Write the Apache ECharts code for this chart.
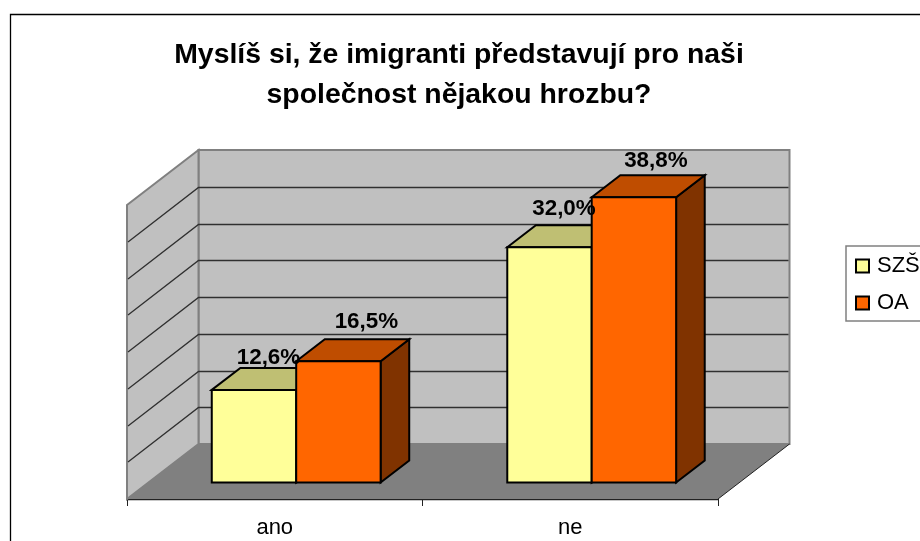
<!DOCTYPE html>
<html>
<head>
<meta charset="utf-8">
<style>html,body{margin:0;padding:0;background:#fff;overflow:hidden}#c{width:920px;height:541px}</style>
<script src="https://cdn.jsdelivr.net/npm/echarts@6/dist/echarts.min.js"></script>
</head>
<body>
<div id="c"></div>
<script>
const titleText = 'Myslíš si, že imigranti představují pro naši\nspolečnost nějakou hrozbu?';
const categories = ['ano', 'ne'];
const seriesNames = ['SZŠ', 'OA'];
const valuesSZS = [12.6, 32.0];
const valuesOA = [16.5, 38.8];
const valueTicks = [0, 5, 10, 15, 20, 25, 30, 35, 40];

const FONT = '"Liberation Sans", Arial, sans-serif';
const DEPTH_X = 71.5, DEPTH_Y = 55;       // wall depth projection
const BAR_NEAR = 0.30, BAR_FAR = 0.70;    // bars' slab within the floor depth
const GAP = 1.5;                          // gap width in bar widths
// label nudges relative to the top of the bar [dx, dy], by series then category
const labelNudge = [[[14.5, -32.5], [14.5, -38]], [[28, -39], [22, -36.5]]];

function poly(points, fill, stroke, lineWidth, z2) {
  return {type: 'polygon', z2: z2 || 0, shape: {points},
    style: {fill: fill, stroke: stroke || 'none', lineWidth: lineWidth || 0, lineJoin: 'miter'}};
}

function renderWalls(params, api) {
  const cs = params.coordSys;
  const v = api.value(1);
  const y = Math.round(api.coord([0, v])[1]);
  const xL = cs.x, xR = cs.x + cs.width;
  const kids = [];
  const yTop = Math.round(api.coord([0, valueTicks[valueTicks.length - 1]])[1]);
  const y0 = Math.round(api.coord([0, 0])[1]);
  if (v === 0) {
    const gray = '#808080';
    kids.push(poly([[xL + DEPTH_X, yTop - DEPTH_Y], [xR + DEPTH_X, yTop - DEPTH_Y], [xR + DEPTH_X, y0 - DEPTH_Y], [xL + DEPTH_X, y0 - DEPTH_Y]], '#C0C0C0', gray, 2, 1));
    kids.push(poly([[xL, yTop], [xL + DEPTH_X, yTop - DEPTH_Y], [xL + DEPTH_X, y0 - DEPTH_Y], [xL, y0]], '#C0C0C0', gray, 2, 1));
    kids.push(poly([[xL, y0], [xR, y0], [xR + DEPTH_X, y0 - DEPTH_Y], [xL + DEPTH_X, y0 - DEPTH_Y]], gray, 'none', 0, 3));
    kids.push({type: 'line', z2: 4, shape: {x1: xR, y1: y0, x2: xR + DEPTH_X, y2: y0 - DEPTH_Y}, style: {stroke: '#222', lineWidth: 1}});
  } else if (v < valueTicks[valueTicks.length - 1]) {
    kids.push({type: 'polyline', z2: 2, shape: {points: [[xL + 1, y], [xL + DEPTH_X, y - DEPTH_Y + 0.5], [xR + DEPTH_X - 1, y - DEPTH_Y + 0.5]]},
      style: {fill: 'none', stroke: '#303030', lineWidth: 1.3}});
  }
  return {type: 'group', children: kids};
}

function barRenderer(seriesIdx, front, top, side) {
  return function (params, api) {
    const cat = api.value(0), val = api.value(1);
    const band = api.size([1, 0])[0];
    const w = band / (seriesNames.length + GAP);
    const base = api.coord([cat, 0]);
    const head = api.coord([cat, val]);
    const x0 = base[0] + (seriesIdx - 1) * w + BAR_NEAR * DEPTH_X;
    const x1 = x0 + w;
    const yB = base[1] - BAR_NEAR * DEPTH_Y;
    const yT = head[1] - BAR_NEAR * DEPTH_Y;
    const dx = (BAR_FAR - BAR_NEAR) * DEPTH_X, dy = (BAR_FAR - BAR_NEAR) * DEPTH_Y;
    const k = '#000', lw = 2;
    const n = labelNudge[seriesIdx][cat];
    return {type: 'group', children: [
      poly([[x1, yB], [x1 + dx, yB - dy], [x1 + dx, yT - dy], [x1, yT]], side, k, lw, 5),
      poly([[x0, yT], [x0 + dx, yT - dy], [x1 + dx, yT - dy], [x1, yT]], top, k, lw, 5),
      poly([[x0, yB], [x1, yB], [x1, yT], [x0, yT]], front, k, lw, 6),
      {type: 'text', z2: 50, silent: true,
        x: (x0 + x1) / 2 + n[0], y: yT + n[1],
        style: {text: String(val.toFixed(1)).replace('.', ',') + '%', font: 'bold 22.4px ' + FONT, fill: '#000', align: 'center', verticalAlign: 'middle'}}
    ]};
  };
}

const chart = echarts.init(document.getElementById('c'), null, {renderer: 'canvas'});
chart.setOption({
  animation: false,
  backgroundColor: '#fff',
  graphic: [{type: 'rect', silent: true, z: -1, shape: {x: 10.5, y: 14.5, width: 1000, height: 1000},
    style: {fill: '#fff', stroke: '#000', lineWidth: 1.3}}],
  title: {
    text: titleText, left: 459, top: 35, padding: 0, textAlign: 'center',
    textStyle: {fontFamily: FONT, fontWeight: 'bold', fontSize: 28.4, lineHeight: 40, color: '#000'}
  },
  legend: {
    show: true, orient: 'vertical', left: 846, top: 246,
    data: seriesNames, icon: 'rect', itemWidth: 13, itemHeight: 13, itemGap: 15,
    padding: [9, 30, 7, 9], borderColor: '#808080', borderWidth: 1.5, backgroundColor: '#fff',
    itemStyle: {borderColor: '#000', borderWidth: 2},
    textStyle: {fontFamily: FONT, fontSize: 22, color: '#000', padding: [0, 0, 0, 3]},
    selectedMode: false
  },
  grid: {left: 127, right: 202, top: 205, bottom: 42, containLabel: false},
  xAxis: {
    type: 'category', data: categories,
    axisLine: {show: true, lineStyle: {color: '#222', width: 1.3}},
    axisTick: {show: true, length: 7, lineStyle: {color: '#222', width: 1}},
    axisLabel: {fontFamily: FONT, fontSize: 22, color: '#000', margin: 18}
  },
  yAxis: {type: 'value', min: 0, max: 40, interval: 5, show: false, splitLine: {show: false}},
  series: [
    {type: 'custom', name: '_walls', z: 1, renderItem: renderWalls, clip: false, silent: true,
      data: valueTicks.map(t => [0, t]), encode: {x: 0, y: 1}, tooltip: {show: false}},
    {type: 'custom', name: seriesNames[0], z: 2, renderItem: barRenderer(0, '#FFFF99', '#BFBF73', '#808050'), clip: false,
      itemStyle: {color: '#FFFF99'}, data: valuesSZS.map((v, i) => [i, v]), encode: {x: 0, y: 1}},
    {type: 'custom', name: seriesNames[1], z: 2, renderItem: barRenderer(1, '#FF6600', '#BF4D00', '#803300'), clip: false,
      itemStyle: {color: '#FF6600'}, data: valuesOA.map((v, i) => [i, v]), encode: {x: 0, y: 1}}
  ]
});
</script>
</body>
</html>
